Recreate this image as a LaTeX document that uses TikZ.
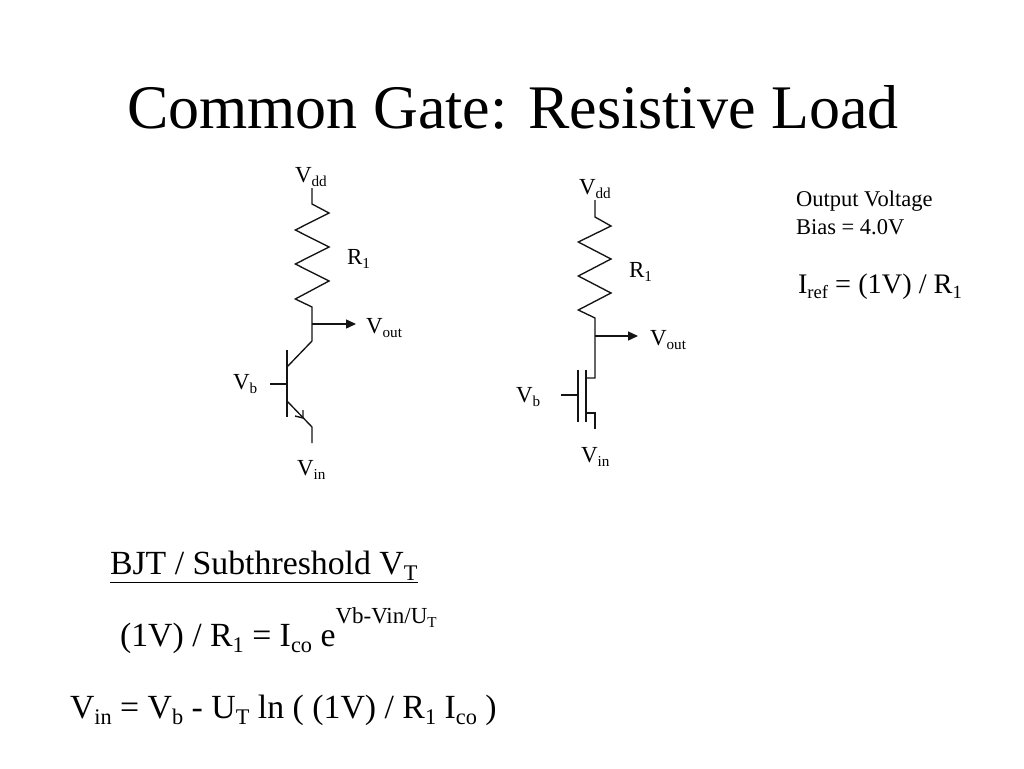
\documentclass[tikz,border=0pt]{standalone}
\usepackage{fontspec}
\usepackage{graphicx}
\setmainfont{Liberation Serif}
\usetikzlibrary{arrows.meta}
\newcommand\dn[1]{\raisebox{-0.2em}{\scalebox{0.66}{#1}}}
\tikzset{
  wire/.style={draw=black!92,line width=1.35pt,line join=miter},
  flow/.style={wire,-{Triangle[length=10pt,width=9pt]}},
  lab/.style={anchor=base west,inner sep=0pt,outer sep=0pt,font=\fontsize{23}{26}\selectfont},
  note/.style={anchor=base west,inner sep=0pt,outer sep=0pt,font=\fontsize{22.5}{26}\selectfont},
  big/.style={anchor=base west,inner sep=0pt,outer sep=0pt,font=\fontsize{33.8}{38}\selectfont},
  ttl/.style={anchor=base west,inner sep=0pt,outer sep=0pt,font=\fontsize{62}{68}\selectfont}
}
\begin{document}
\begin{tikzpicture}[x=1pt,y=-1pt]
\useasboundingbox (0,0) rectangle (1024,768);
\fill[white] (0,0) rectangle (1024,768);
\node[ttl] (title) at (127,128) {Common Gate: Resistive Load};
% BJT circuit
\coordinate (a1) at (312,188);
\coordinate (a2) at (312,204);
\coordinate (a3) at (312,307);
\coordinate (a4) at (312,324);
\coordinate (a5) at (312,341);
\coordinate (a6) at (287,367);
\coordinate (abt) at (287,350);
\coordinate (abb) at (287,417);
\coordinate (abm) at (287,384);
\coordinate (abase) at (270,384);
\coordinate (ae) at (287,401);
\coordinate (ae2) at (312,427);
\coordinate (ae3) at (312,443);
\coordinate (aout) at (356,324);
\coordinate (at) at (303,418);
\coordinate (at1) at (295,416);
\coordinate (at2) at (303,410);
\draw[wire] (a1) -- (a2) -- (329,213) -- (295.3,230) -- (329,247) -- (295.3,264) -- (329,281) -- (295.3,299) -- (a3) -- (a5) -- (a6);
\draw[wire] (abt) -- (abb);
\draw[wire] (abase) -- (abm);
\draw[wire] (ae) -- (ae2) -- (ae3);
\draw[wire] (at1) -- (at) -- (at2);
\draw[flow] (a4) -- (aout);
\node[lab] (avdd) at (295,182) {V\dn{dd}};
\node[lab] (ar) at (347,264) {R\dn{1}};
\node[lab] (avout) at (366,333) {V\dn{out}};
\node[lab] (avb) at (233,389) {V\dn{b}};
\node[lab] (avin) at (297,475) {V\dn{in}};
% MOS circuit
\coordinate (b1) at (595,200);
\coordinate (b2) at (595,217);
\coordinate (b3) at (595,318);
\coordinate (b4) at (595,336);
\coordinate (b5) at (595,378);
\coordinate (b6) at (586,378);
\coordinate (bct) at (586,370);
\coordinate (bcb) at (586,422);
\coordinate (bgt) at (578,370);
\coordinate (bgb) at (578,422);
\coordinate (bgm) at (578,395);
\coordinate (bgate) at (561,395);
\coordinate (bs) at (586,413);
\coordinate (bs2) at (595,413);
\coordinate (bs3) at (595,429);
\coordinate (bout) at (638,336);
\draw[wire] (b1) -- (b2) -- (611,226) -- (578.3,242) -- (611,259) -- (578.3,276) -- (611,293) -- (578.3,310) -- (b3) -- (b5) -- (b6);
\draw[wire] (bct) -- (bcb);
\draw[wire] (bgt) -- (bgb);
\draw[wire] (bgate) -- (bgm);
\draw[wire] (bs) -- (bs2) -- (bs3);
\draw[flow] (b4) -- (bout);
\node[lab] (bvdd) at (579,194) {V\dn{dd}};
\node[lab] (br) at (629,277) {R\dn{1}};
\node[lab] (bvout) at (650,345) {V\dn{out}};
\node[lab] (bvb) at (516,402) {V\dn{b}};
\node[lab] (bvin) at (581,462) {V\dn{in}};
% Right notes
\node[note] (n1) at (796,206) {Output Voltage};
\node[note] (n2) at (796,234) {Bias = 4.0V};
\node[anchor=base west,inner sep=0pt,outer sep=0pt,font=\fontsize{28.3}{32}\selectfont] (n3) at (798,293) {I\dn{ref} = (1V) / R\dn{1}};
% Equations
\node[big] (e1) at (110,574) {\underline{BJT / Subthreshold V\dn{T}}};
\node[big] (e2) at (120,646) {(1V) / R\dn{1} = I\dn{co} e\raisebox{0.67em}{\scalebox{0.68}{Vb-Vin/U\dn{T}}}};
\node[big] (e3) at (70,718) {V\dn{in} = V\dn{b} - U\dn{T} ln ( (1V) / R\dn{1} I\dn{co} )};
\end{tikzpicture}
\end{document}
